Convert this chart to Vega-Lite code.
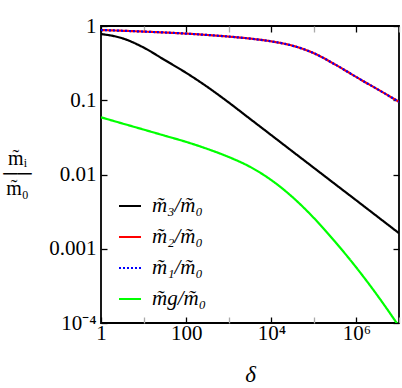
{
  "$schema": "https://vega.github.io/schema/vega-lite/v6.json",
  "width": 298,
  "height": 297,
  "autosize": {"type": "none"},
  "padding": {"left": 101, "top": 26, "right": 3, "bottom": 65},
  "background": "white",
  "config": {
    "view": {"stroke": "black", "strokeWidth": 1.8},
    "font": "Liberation Serif",
    "axis": {
      "grid": false,
      "domain": false,
      "labelFont": "Liberation Serif",
      "labelFontSize": 21,
      "labelColor": "black",
      "labelFlush": false,
      "labelOverlap": false,
      "tickWidth": 1.3,
      "tickSize": -6,
      "tickColor": "black",
      "titleFont": "Liberation Serif",
      "titleFontWeight": "normal",
      "titleColor": "black"
    },
    "legend": {
      "labelFont": "Liberation Serif",
      "labelFontSize": 21,
      "labelFontStyle": "italic",
      "labelColor": "black",
      "symbolType": "stroke",
      "symbolSize": 484,
      "symbolStrokeWidth": 2,
      "rowPadding": 9,
      "labelOffset": 10,
      "labelLimit": 200
    }
  },
  "data": {
    "values": [
      {"d": 1, "v": 0.78, "s": "m\u0303\u2083/m\u0303\u2080"},
      {"d": 3.162, "v": 0.684, "s": "m\u0303\u2083/m\u0303\u2080"},
      {"d": 10, "v": 0.513, "s": "m\u0303\u2083/m\u0303\u2080"},
      {"d": 31.62, "v": 0.347, "s": "m\u0303\u2083/m\u0303\u2080"},
      {"d": 100, "v": 0.234, "s": "m\u0303\u2083/m\u0303\u2080"},
      {"d": 316.2, "v": 0.151, "s": "m\u0303\u2083/m\u0303\u2080"},
      {"d": 1000, "v": 0.0933, "s": "m\u0303\u2083/m\u0303\u2080"},
      {"d": 3162, "v": 0.0562, "s": "m\u0303\u2083/m\u0303\u2080"},
      {"d": 10000, "v": 0.0339, "s": "m\u0303\u2083/m\u0303\u2080"},
      {"d": 31623, "v": 0.0204, "s": "m\u0303\u2083/m\u0303\u2080"},
      {"d": 100000, "v": 0.0123, "s": "m\u0303\u2083/m\u0303\u2080"},
      {"d": 316228, "v": 0.00741, "s": "m\u0303\u2083/m\u0303\u2080"},
      {"d": 1000000, "v": 0.00447, "s": "m\u0303\u2083/m\u0303\u2080"},
      {"d": 3162278, "v": 0.00269, "s": "m\u0303\u2083/m\u0303\u2080"},
      {"d": 10000000, "v": 0.00162, "s": "m\u0303\u2083/m\u0303\u2080"},

      {"d": 1, "v": 0.883, "s": "m\u0303\u2082/m\u0303\u2080"},
      {"d": 3.162, "v": 0.863, "s": "m\u0303\u2082/m\u0303\u2080"},
      {"d": 10, "v": 0.841, "s": "m\u0303\u2082/m\u0303\u2080"},
      {"d": 31.62, "v": 0.817, "s": "m\u0303\u2082/m\u0303\u2080"},
      {"d": 100, "v": 0.79, "s": "m\u0303\u2082/m\u0303\u2080"},
      {"d": 316.2, "v": 0.757, "s": "m\u0303\u2082/m\u0303\u2080"},
      {"d": 1000, "v": 0.72, "s": "m\u0303\u2082/m\u0303\u2080"},
      {"d": 3162, "v": 0.677, "s": "m\u0303\u2082/m\u0303\u2080"},
      {"d": 10000, "v": 0.621, "s": "m\u0303\u2082/m\u0303\u2080"},
      {"d": 31623, "v": 0.543, "s": "m\u0303\u2082/m\u0303\u2080"},
      {"d": 100000, "v": 0.43, "s": "m\u0303\u2082/m\u0303\u2080"},
      {"d": 316228, "v": 0.303, "s": "m\u0303\u2082/m\u0303\u2080"},
      {"d": 1000000, "v": 0.205, "s": "m\u0303\u2082/m\u0303\u2080"},
      {"d": 3162278, "v": 0.14, "s": "m\u0303\u2082/m\u0303\u2080"},
      {"d": 10000000, "v": 0.0955, "s": "m\u0303\u2082/m\u0303\u2080"},

      {"d": 1, "v": 0.883, "s": "m\u0303\u2081/m\u0303\u2080"},
      {"d": 3.162, "v": 0.863, "s": "m\u0303\u2081/m\u0303\u2080"},
      {"d": 10, "v": 0.841, "s": "m\u0303\u2081/m\u0303\u2080"},
      {"d": 31.62, "v": 0.817, "s": "m\u0303\u2081/m\u0303\u2080"},
      {"d": 100, "v": 0.79, "s": "m\u0303\u2081/m\u0303\u2080"},
      {"d": 316.2, "v": 0.757, "s": "m\u0303\u2081/m\u0303\u2080"},
      {"d": 1000, "v": 0.72, "s": "m\u0303\u2081/m\u0303\u2080"},
      {"d": 3162, "v": 0.677, "s": "m\u0303\u2081/m\u0303\u2080"},
      {"d": 10000, "v": 0.621, "s": "m\u0303\u2081/m\u0303\u2080"},
      {"d": 31623, "v": 0.543, "s": "m\u0303\u2081/m\u0303\u2080"},
      {"d": 100000, "v": 0.43, "s": "m\u0303\u2081/m\u0303\u2080"},
      {"d": 316228, "v": 0.303, "s": "m\u0303\u2081/m\u0303\u2080"},
      {"d": 1000000, "v": 0.205, "s": "m\u0303\u2081/m\u0303\u2080"},
      {"d": 3162278, "v": 0.14, "s": "m\u0303\u2081/m\u0303\u2080"},
      {"d": 10000000, "v": 0.0955, "s": "m\u0303\u2081/m\u0303\u2080"},

      {"d": 1, "v": 0.0589, "s": "m\u0303g/m\u0303\u2080"},
      {"d": 3.162, "v": 0.0487, "s": "m\u0303g/m\u0303\u2080"},
      {"d": 10, "v": 0.0403, "s": "m\u0303g/m\u0303\u2080"},
      {"d": 31.62, "v": 0.0333, "s": "m\u0303g/m\u0303\u2080"},
      {"d": 100, "v": 0.0275, "s": "m\u0303g/m\u0303\u2080"},
      {"d": 316.2, "v": 0.0221, "s": "m\u0303g/m\u0303\u2080"},
      {"d": 1000, "v": 0.0172, "s": "m\u0303g/m\u0303\u2080"},
      {"d": 3162, "v": 0.0127, "s": "m\u0303g/m\u0303\u2080"},
      {"d": 10000, "v": 0.00841, "s": "m\u0303g/m\u0303\u2080"},
      {"d": 31623, "v": 0.00495, "s": "m\u0303g/m\u0303\u2080"},
      {"d": 100000, "v": 0.0026, "s": "m\u0303g/m\u0303\u2080"},
      {"d": 316228, "v": 0.00124, "s": "m\u0303g/m\u0303\u2080"},
      {"d": 1000000, "v": 0.000556, "s": "m\u0303g/m\u0303\u2080"},
      {"d": 3162278, "v": 0.000232, "s": "m\u0303g/m\u0303\u2080"},
      {"d": 10000000, "v": 0.0000902, "s": "m\u0303g/m\u0303\u2080"}
    ]
  },
  "layer": [
    {
      "mark": {"type": "line", "strokeWidth": 2.2, "clip": true, "interpolate": "monotone"},
      "encoding": {
        "x": {
          "field": "d", "type": "quantitative",
          "scale": {"type": "log", "domain": [1, 10000000], "nice": false},
          "axis": {
            "orient": "bottom",
            "values": [1, 10, 100, 1000, 10000, 100000, 1000000, 10000000],
            "labelExpr": "datum.value == 1 ? '1' : datum.value == 100 ? '100' : datum.value == 10000 ? '10\u2074' : datum.value == 1000000 ? '10\u2076' : ''",
            "tickColor": {"condition": {"test": "indexof([1,100,10000,1000000], datum.value) >= 0", "value": "black"}, "value": "#aaaaaa"},
            "labelPadding": 5,
            "labelBaseline": "top",
            "title": "\u03b4",
            "titleFontSize": 23,
            "titleFontStyle": "italic",
            "titleBaseline": "alphabetic",
            "titleY": 58
          }
        },
        "y": {
          "field": "v", "type": "quantitative",
          "scale": {"type": "log", "domain": [0.0001, 1], "nice": false},
          "axis": {
            "orient": "left",
            "values": [0.0001, 0.001, 0.01, 0.1, 1],
            "labelExpr": "datum.value == 1 ? '1' : datum.value == 0.1 ? '0.1' : datum.value == 0.01 ? '0.01' : datum.value == 0.001 ? '0.001' : datum.value == 0.0001 ? '10\u207b\u2074' : ''",
            "labelPadding": 11,
            "title": ["m\u0303\u1d62", "\u2500\u2500", "m\u0303\u2080"],
            "titleFontSize": 20,
            "titleAngle": 0,
            "titleAlign": "center",
            "titleBaseline": "alphabetic",
            "titleLineHeight": 15,
            "titleX": -84,
            "titleY": 138
          }
        },
        "color": {
          "field": "s", "type": "nominal",
          "scale": {
            "domain": ["m\u0303\u2083/m\u0303\u2080", "m\u0303\u2082/m\u0303\u2080", "m\u0303\u2081/m\u0303\u2080", "m\u0303g/m\u0303\u2080"],
            "range": ["#000000", "#ff0000", "#0000ff", "#00ff00"]
          },
          "legend": {"title": null, "orient": "none", "legendX": 17, "legendY": 168}
        },
        "strokeDash": {
          "field": "s", "type": "nominal",
          "scale": {
            "domain": ["m\u0303\u2083/m\u0303\u2080", "m\u0303\u2082/m\u0303\u2080", "m\u0303\u2081/m\u0303\u2080", "m\u0303g/m\u0303\u2080"],
            "range": [[1, 0], [1, 0], [2, 2], [1, 0]]
          },
          "legend": {"title": null, "orient": "none", "legendX": 17, "legendY": 168}
        }
      }
    },
    {
      "mark": {"type": "line", "opacity": 0},
      "encoding": {
        "x": {
          "field": "d", "type": "quantitative",
          "scale": {"type": "log", "domain": [1, 10000000], "nice": false},
          "axis": {
            "orient": "top",
            "values": [1, 10, 100, 1000, 10000, 100000, 1000000, 10000000],
            "tickColor": {"condition": {"test": "indexof([1,100,10000,1000000], datum.value) >= 0", "value": "black"}, "value": "#aaaaaa"},
            "labels": false,
            "title": null
          }
        },
        "y": {
          "field": "v", "type": "quantitative",
          "scale": {"type": "log", "domain": [0.0001, 1], "nice": false},
          "axis": {
            "orient": "right",
            "values": [0.0001, 0.001, 0.01, 0.1, 1],
            "labels": false,
            "title": null
          }
        }
      }
    }
  ],
  "resolve": {"axis": {"x": "independent", "y": "independent"}}
}
